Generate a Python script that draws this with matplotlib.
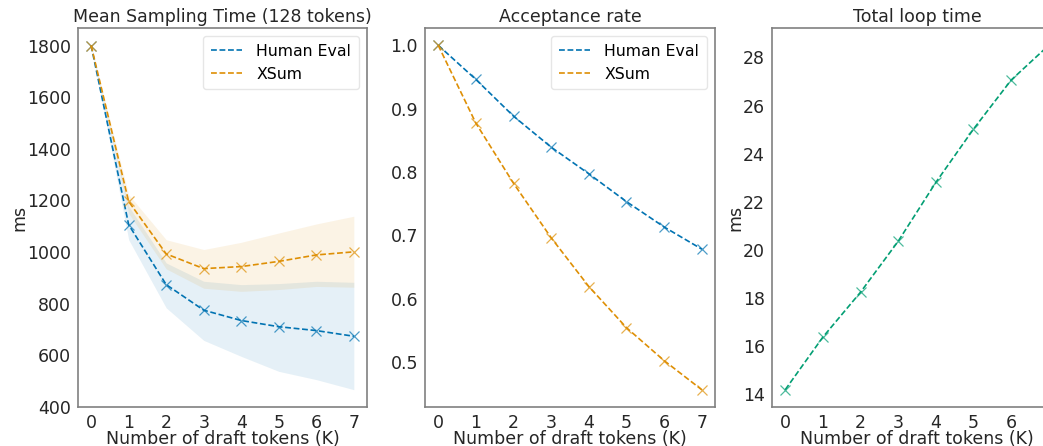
import matplotlib
matplotlib.use("Agg")
import matplotlib.pyplot as plt
from matplotlib.lines import Line2D

K = [0, 1, 2, 3, 4, 5, 6, 7]

# Mean sampling time (ms)
he_time = [1800, 1106, 874, 775, 735, 711, 696, 674]
he_time_lo = [1800, 1048, 784, 658, 596, 538, 506, 467]
he_time_hi = [1800, 1178, 958, 887, 874, 878, 887, 883]
xs_time = [1800, 1196, 993, 936, 944, 964, 989, 1001]
xs_time_lo = [1800, 1150, 935, 860, 848, 855, 867, 864]
xs_time_hi = [1800, 1223, 1048, 1010, 1038, 1074, 1109, 1139]

# Acceptance rate
he_acc = [1.0, 0.946, 0.888, 0.839, 0.797, 0.753, 0.713, 0.678]
xs_acc = [1.0, 0.877, 0.782, 0.696, 0.619, 0.554, 0.502, 0.456]

# Total loop time (ms)
loop_time = [14.17, 16.36, 18.23, 20.35, 22.80, 25.02, 27.06, 28.51]

BLUE = "#0173b2"
ORANGE = "#de8f05"
GREEN = "#029e73"
TXT = "#262626"
SPINE = "#808080"

plt.rcParams["font.family"] = "DejaVu Sans"
FS = 12.5
LFS = 11.3

fig = plt.figure(figsize=(10.43, 4.46), dpi=100)
W, H = 1043, 446
def ax_at(l, r, t, b):
    return fig.add_axes([l / W, 1 - b / H, (r - l) / W, (b - t) / H])

ax1 = ax_at(78, 367, 28, 407)
ax2 = ax_at(425, 715, 28, 407)
ax3 = ax_at(772, 1062, 28, 407)

line_kw = dict(linestyle="--", linewidth=1.2, dashes=(3.5, 1.6))

def draw(ax, y, color):
    ax.plot(K, y, color=color, **line_kw)
    ax.plot(K, y, linestyle="none", marker="x", markersize=7,
            markeredgewidth=0.9, color=color, alpha=0.7)

ax1.fill_between(K, he_time_lo, he_time_hi, color=BLUE, alpha=0.1, linewidth=0)
ax1.fill_between(K, xs_time_lo, xs_time_hi, color=ORANGE, alpha=0.1, linewidth=0)
draw(ax1, he_time, BLUE)
draw(ax1, xs_time, ORANGE)
ax1.set_ylim(400, 1868)
ax1.set_yticks([400, 600, 800, 1000, 1200, 1400, 1600, 1800])
ax1.set_title("Mean Sampling Time (128 tokens)", fontsize=FS, color=TXT, pad=4)
ax1.set_ylabel("ms", fontsize=FS, color=TXT, labelpad=-1)

draw(ax2, he_acc, BLUE)
draw(ax2, xs_acc, ORANGE)
ax2.set_title("Acceptance rate", fontsize=FS, color=TXT, pad=4)

draw(ax3, loop_time, GREEN)
ax3.set_title("Total loop time", fontsize=FS, color=TXT, pad=4)
ax3.set_ylabel("ms", fontsize=FS, color=TXT, labelpad=-1)

for ax in (ax1, ax2, ax3):
    ax.set_xticks(K)
    ax.set_xlabel("Number of draft tokens (K)", fontsize=FS, color=TXT, labelpad=-1.5)
    ax.tick_params(length=0, labelsize=FS, labelcolor=TXT, pad=5)
    for s in ax.spines.values():
        s.set_color(SPINE)
        s.set_linewidth(1.2)

for ax in (ax1, ax2):
    handles = [Line2D([], [], color=BLUE, **line_kw),
               Line2D([], [], color=ORANGE, **line_kw)]
    leg = ax.legend(handles, ["Human Eval", "XSum"], loc="upper right",
                    fontsize=LFS, frameon=True, fancybox=True,
                    handlelength=2.0, handletextpad=0.9, borderpad=0.5)
    leg.get_frame().set_edgecolor("#e0e0e0")

fig.savefig("out.png", dpi=100)
